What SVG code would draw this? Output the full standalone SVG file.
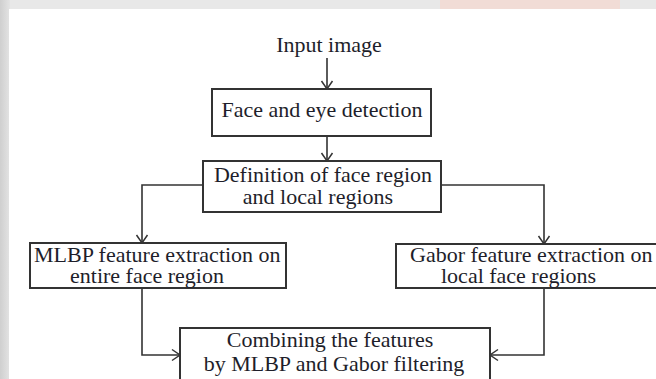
<svg xmlns="http://www.w3.org/2000/svg" width="656" height="379" viewBox="0 0 656 379">
<style>
.box{fill:#fff;stroke:#333;stroke-width:2}
.t{font-family:"Liberation Serif","Times New Roman",serif;font-size:22px;fill:#1e1e2a}
.c{text-anchor:middle}
.ln{fill:none;stroke:#333;stroke-width:1.6}
</style>
<defs>
<linearGradient id="lg" x1="0" y1="0" x2="1" y2="0">
<stop offset="0" stop-color="#cfcfcf"/>
<stop offset="1" stop-color="#e4e4e4"/>
</linearGradient>
<marker id="ah" markerUnits="userSpaceOnUse" markerWidth="12" markerHeight="14" viewBox="-10 -7 12 14" refX="0" refY="0" orient="auto">
<path d="M-8,-5.5 L0,0 L-8,5.5" fill="none" stroke="#333" stroke-width="1.5"/>
</marker>
</defs>
<rect x="0" y="0" width="656" height="379" fill="#e8e8e8"/>
<rect x="0" y="0" width="10" height="379" fill="url(#lg)"/>
<rect x="440" y="0" width="180" height="9" fill="#f1dcd6"/>
<rect x="9" y="9" width="647" height="370" fill="#fff"/>
<g id="connectors">
<line class="ln" x1="327" y1="58" x2="327" y2="89" marker-end="url(#ah)"/>
<line class="ln" x1="327" y1="137" x2="327" y2="161" marker-end="url(#ah)"/>
<polyline class="ln" points="203,185 142,185 142,243" marker-end="url(#ah)"/>
<polyline class="ln" points="441,185 544,185 544,244" marker-end="url(#ah)"/>
<polyline class="ln" points="142,288 142,355 180,355" marker-end="url(#ah)"/>
<polyline class="ln" points="544,288 544,355 490,355" marker-end="url(#ah)"/>
</g>
<g id="input">
<text class="t c" x="329" y="52">Input image</text>
</g>
<g id="detect">
<rect class="box" x="212" y="89" width="219" height="47"/>
<text class="t c" x="322" y="117">Face and eye detection</text>
</g>
<g id="definition">
<rect class="box" x="203" y="161" width="238" height="51"/>
<text class="t c" x="323" y="182">Definition of face region</text>
<text class="t c" x="318" y="204">and local regions</text>
</g>
<g id="mlbp">
<rect class="box" x="30" y="243" width="256" height="45"/>
<text class="t" x="34" y="262">MLBP feature extraction on</text>
<text class="t" x="70" y="283">entire face region</text>
</g>
<g id="gabor">
<rect class="box" x="396" y="244" width="264" height="44"/>
<text class="t" x="410" y="262">Gabor feature extraction on</text>
<text class="t" x="441" y="283">local face regions</text>
</g>
<g id="combine">
<rect class="box" x="180" y="328" width="310" height="60"/>
<text class="t c" x="330" y="347">Combining the features</text>
<text class="t c" x="334" y="371">by MLBP and Gabor filtering</text>
</g>
</svg>
